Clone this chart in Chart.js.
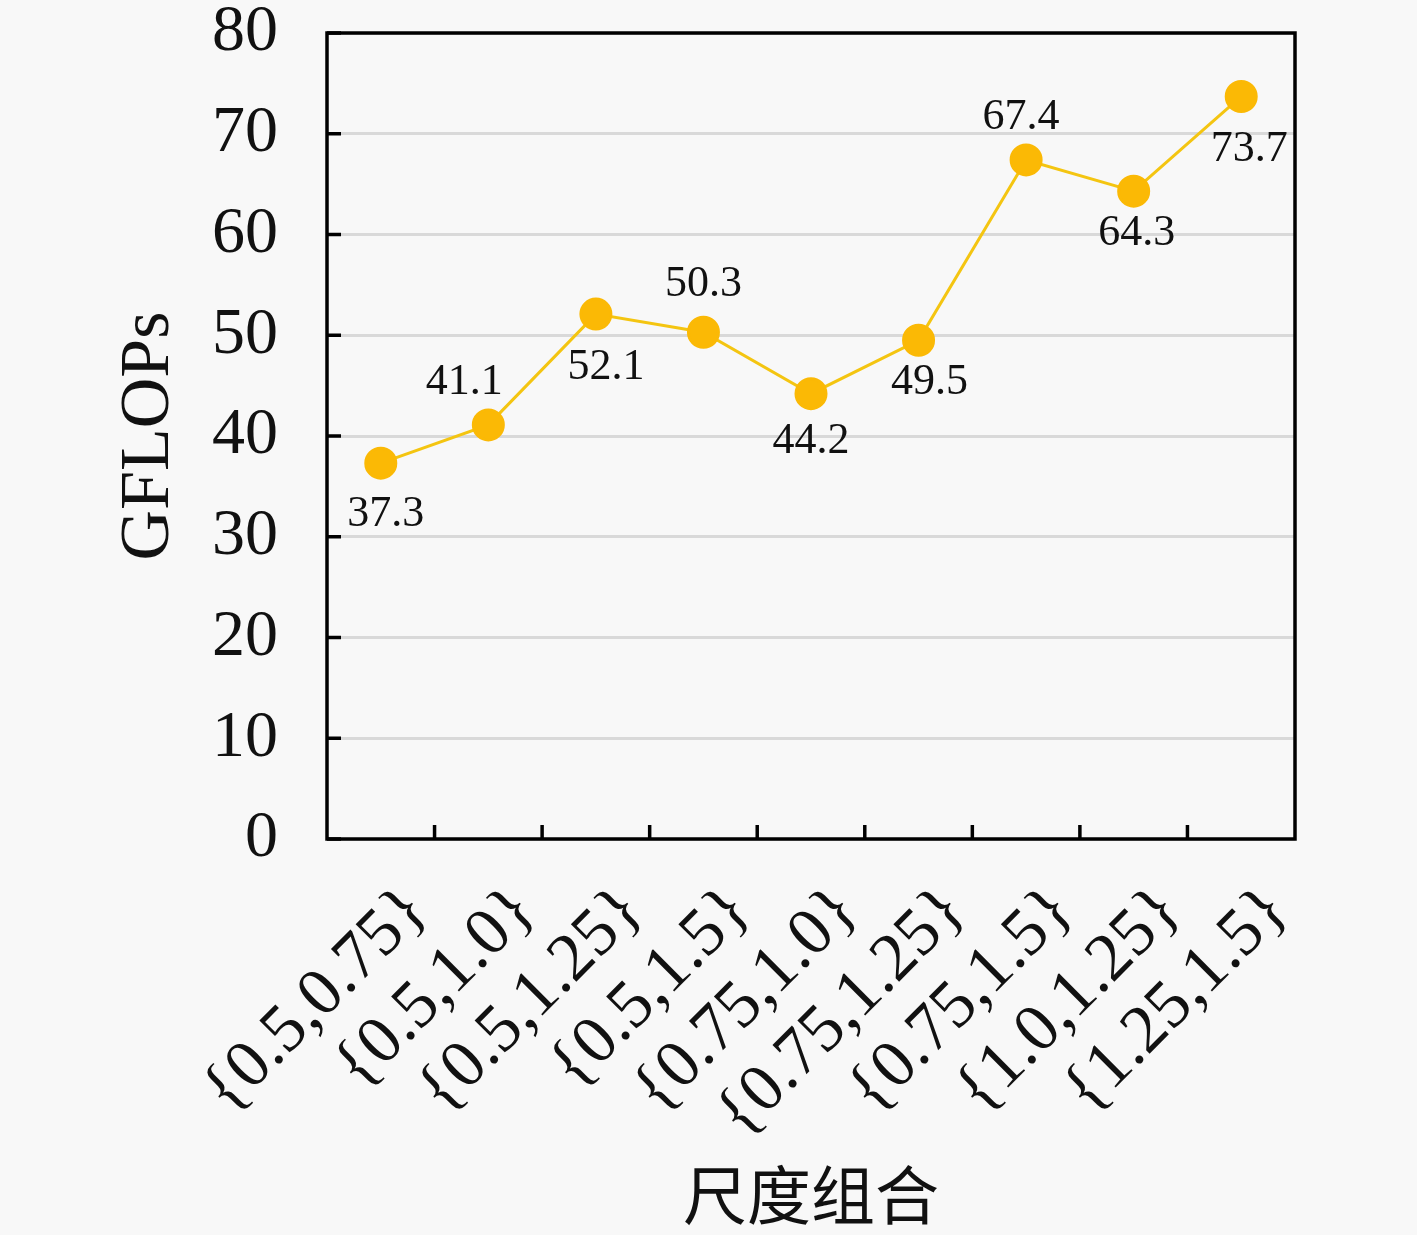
<!DOCTYPE html>
<html>
<head>
<meta charset="utf-8">
<script src="https://cdn.jsdelivr.net/npm/chart.js@4.4.1/dist/chart.umd.min.js"></script>
<style>
  html, body { margin: 0; padding: 0; background: #f8f8f8; }
  canvas { display: block; }
</style>
</head>
<body>
<canvas id="gflopsChart" width="1417" height="1235"></canvas>
<script>
const scaleCombos = ['{0.5,0.75}', '{0.5,1.0}', '{0.5,1.25}', '{0.5,1.5}', '{0.75,1.0}',
  '{0.75,1.25}', '{0.75,1.5}', '{1.0,1.25}', '{1.25,1.5}'];
const gflops = [37.3, 41.1, 52.1, 50.3, 44.2, 49.5, 67.4, 64.3, 73.7];
const yTicks = [0, 10, 20, 30, 40, 50, 60, 70, 80];

// where each value label sits relative to its point (dx, dy in px)
const labelNudge = [[5, 51], [-24, -42], [10, 53], [0, -48], [0, 48], [11, 42], [-5, -43], [3, 42], [8, 53]];

const serif = '"Liberation Serif", "DejaVu Serif", serif';

const paperPlugin = {
  id: 'paper',
  beforeDraw(chart) {
    const c = chart.ctx;
    c.save();
    c.fillStyle = '#f8f8f8';
    c.fillRect(0, 0, chart.width, chart.height);
    c.restore();
  },
  afterDraw(chart) {
    const c = chart.ctx;
    const a = chart.chartArea;
    const xs = chart.scales.x, ys = chart.scales.y;
    c.save();
    c.strokeStyle = '#000';
    c.lineWidth = 3.5;
    // inward ticks on y
    yTicks.forEach(v => {
      const y = ys.getPixelForValue(v);
      c.beginPath();
      c.moveTo(a.left, y);
      c.lineTo(a.left + 14, y);
      c.stroke();
    });
    // inward ticks on x at category boundaries
    for (let i = 0; i < scaleCombos.length - 1; i++) {
      const x = (xs.getPixelForValue(i) + xs.getPixelForValue(i + 1)) / 2;
      c.beginPath();
      c.moveTo(x, a.bottom);
      c.lineTo(x, a.bottom - 14);
      c.stroke();
    }
    c.strokeRect(a.left, a.top, a.right - a.left, a.bottom - a.top);
    c.restore();
  },
  afterDatasetsDraw(chart) {
    const c = chart.ctx;
    const meta = chart.getDatasetMeta(0);
    c.save();
    c.font = '44px ' + serif;
    c.fillStyle = '#111';
    c.textAlign = 'center';
    c.textBaseline = 'middle';
    meta.data.forEach((pt, i) => {
      const n = labelNudge[i];
      c.fillText(gflops[i].toFixed(1), pt.x + n[0], pt.y + n[1]);
    });
    c.restore();
  }
};

const ctx = document.getElementById('gflopsChart').getContext('2d');
const gflopsChart = new Chart(ctx, {
  type: 'line',
  data: {
    labels: scaleCombos,
    datasets: [{
      label: 'GFLOPs',
      data: gflops,
      borderColor: '#f4c511',
      borderWidth: 3,
      backgroundColor: '#fbb905',
      pointBackgroundColor: '#fbb905',
      pointBorderColor: '#fbb905',
      pointRadius: 15,
      tension: 0
    }]
  },
  options: {
    responsive: false,
    devicePixelRatio: 1,
    animation: false,
    layout: {
      padding: { top: 33, right: 122, left: 0, bottom: 0 }
    },
    plugins: {
      legend: { display: false },
      tooltip: { enabled: false }
    },
    scales: {
      x: {
        offset: true,
        grid: { display: false },
        border: { display: false },
        ticks: {
          color: '#111',
          font: { family: serif, size: 68 },
          maxRotation: 45,
          minRotation: 45,
          autoSkip: false,
          padding: 24,
          labelOffset: 37
        },
        title: {
          display: true,
          text: '尺度组合',
          color: '#111',
          font: { family: '"Noto Sans CJK SC", sans-serif', size: 64 },
          padding: { top: 0, bottom: 2 }
        },
        afterFit(scale) {
          scale.height = 396;
          scale.paddingLeft = 0;
          scale.paddingRight = 0;
        }
      },
      y: {
        min: 0,
        max: 80,
        afterBuildTicks(scale) { scale.ticks = yTicks.map(v => ({ value: v })); },
        grid: { color: '#d9d9d9', lineWidth: 3, drawTicks: false },
        border: { display: false },
        ticks: {
          color: '#111',
          font: { family: serif, size: 66 },
          padding: 49
        },
        title: {
          display: true,
          text: 'GFLOPs',
          color: '#111',
          font: { family: serif, size: 70 },
          padding: { top: 108, bottom: 0 }
        },
        afterFit(scale) {
          scale.width = 327;
          scale.paddingTop = 0;
          scale.paddingBottom = 0;
        }
      }
    }
  },
  plugins: [paperPlugin]
});
</script>
</body>
</html>
